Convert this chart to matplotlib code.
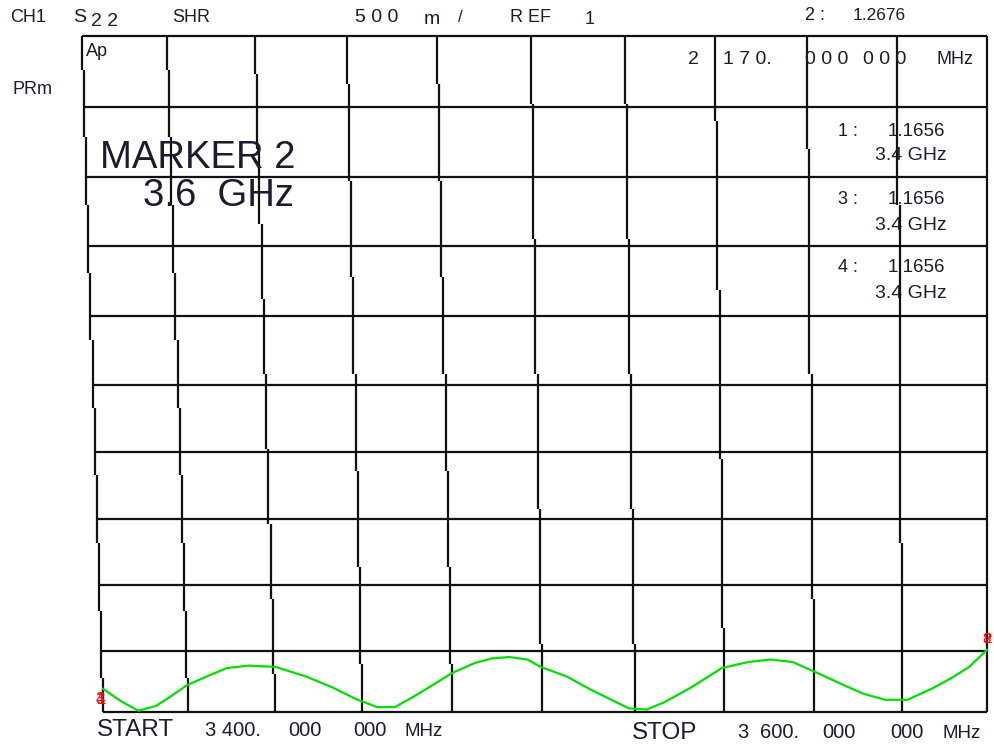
import matplotlib
matplotlib.use('Agg')
import matplotlib.pyplot as plt

# Sweep data (frequency in MHz, SWR)
freq = [3400, 3404, 3408, 3412, 3415, 3419, 3424, 3428, 3433, 3439,
        3446, 3452, 3457, 3462, 3466, 3470, 3475, 3479, 3484, 3488,
        3492, 3496, 3499, 3505, 3510, 3515, 3519, 3523, 3527, 3533,
        3540, 3546, 3551, 3556, 3561, 3567, 3572, 3577, 3582, 3588,
        3592, 3596, 3600]
swr = [1.19, 1.09, 1.01, 1.05, 1.12, 1.22, 1.30, 1.36, 1.38, 1.37,
       1.29, 1.20, 1.11, 1.04, 1.04, 1.12, 1.23, 1.32, 1.40, 1.44,
       1.45, 1.43, 1.37, 1.29, 1.19, 1.10, 1.03, 1.02, 1.08, 1.20,
       1.36, 1.41, 1.43, 1.41, 1.33, 1.23, 1.15, 1.10, 1.10, 1.20,
       1.28, 1.37, 1.51]

marker_labels = ['1 :', '3 :', '4 :']
marker_values = ['1.1656', '1.1656', '1.1656']
marker_freqs = ['3.4 GHz', '3.4 GHz', '3.4 GHz']

# Screen geometry (pixels)
W, H = 994, 747
rows_y = [36, 107, 177, 246, 316, 385, 452, 519, 585, 651, 712]
vx_top = [82, 167, 255, 347, 437, 531, 625, 715, 807, 897, 987]
vx_bot = [103, 188, 275, 362, 452, 542, 635, 724, 814, 902, 987]
y_top, y_bot = rows_y[0], rows_y[-1]
x_right = 987

plt.rcParams['font.family'] = ['Liberation Sans', 'DejaVu Sans']
ink = '#1c1c2c'

fig = plt.figure(figsize=(W / 100, H / 100), dpi=100)
ax = fig.add_axes([0, 0, 1, 1])
ax.set_xlim(0, W)
ax.set_ylim(H, 0)
ax.axis('off')


def line_x(i, y):
    # vertical line i drifts right in small steps going down
    d = vx_bot[i] - vx_top[i]
    n = max(int(round(d / 2.2)), 0)
    if n == 0:
        return vx_top[i]
    s = (y_bot - y_top) / n
    k = sum(1 for j in range(n) if y >= y_top + s * (j + 0.5))
    return vx_top[i] + d * k / n


# vertical grid lines, drawn as stepped segments
for i in range(len(vx_top)):
    d = vx_bot[i] - vx_top[i]
    n = max(int(round(d / 2.2)), 0)
    breaks = [y_top]
    if n > 0:
        s = (y_bot - y_top) / n
        breaks += [y_top + s * (j + 0.5) for j in range(n)]
    breaks.append(y_bot)
    for a, b in zip(breaks[:-1], breaks[1:]):
        xx = line_x(i, (a + b) / 2)
        ax.plot([xx, xx], [a, b], color='#111111', lw=1.6,
                solid_capstyle='butt')

# horizontal grid lines
for y in rows_y:
    ax.plot([line_x(0, y), x_right], [y, y], color='#111111', lw=1.6,
            solid_capstyle='butt')


def txt(x, y, s, size, **kw):
    ax.text(x, y, s, fontsize=size, color=ink, va='center', **kw)


# header texts
fs = 13
txt(10, 18, 'CH1', fs)
txt(73, 18, 'S', fs + 1)
txt(91, 21, '2 2', fs + 1)
txt(172, 17, 'SHR', fs)
txt(355, 17, '5 0 0', fs + 1)
txt(424, 19, 'm', fs + 1)
txt(458, 17, '/', fs - 1)
txt(510, 17, 'R EF', fs)
txt(585, 19, '1', fs)
txt(805, 16, '2 :', fs)
txt(853, 16, '1.2676', fs - 0.5)
txt(86, 52, 'Ap', fs)
txt(12, 90, 'PRm', fs)

txt(688, 59, '2', fs + 1)
txt(723, 59, '1 7 0.', fs + 1)
txt(805, 59, '0 0 0', fs + 1)
txt(863, 59, '0 0 0', fs + 1)
txt(937, 60, 'MHz', fs)

# big marker annotation
txt(100, 158, 'MARKER 2', 27.5)
txt(143, 196, '3.6  GHz', 27.5)

# marker readouts
marker_rows = [131, 200, 268]
for lab, val, fr, yy in zip(marker_labels, marker_values, marker_freqs,
                            marker_rows):
    txt(838, yy, lab, fs)
    txt(945, yy, val, fs + 0.5, ha='right')
    txt(947, yy + 25, fr, fs + 1, ha='right')

# footer
txt(97, 730, 'START', 17.5)
txt(205, 731, '3 400.', 14.5)
txt(288, 731, '000', 14.5)
txt(353, 731, '000', 14.5)
txt(405, 732, 'MHz', 13.5)
txt(632, 733, 'STOP', 17.5)
txt(737, 733, '3', 14.5)
txt(760, 733, '600.', 14.5)
txt(822, 733, '000', 14.5)
txt(890, 733, '000', 14.5)
txt(943, 734, 'MHz', 13.5)

# trace axes over the bottom grid row: REF 1, 500 m/div
left = line_x(0, y_bot - 5)
tax = fig.add_axes([left / W, (H - y_bot) / H, (x_right - left) / W,
                    (y_bot - rows_y[-2]) / H])
tax.set_xlim(freq[0], freq[-1])
tax.set_ylim(1.0, 1.5)
tax.axis('off')
tax.patch.set_alpha(0)
tax.plot(freq, swr, color='#00e000', lw=1.6, clip_on=False)

# marker flags
for t, dx in zip(['1', '3', '4'], [-1, -2, -2]):
    tax.annotate(t, (freq[0], swr[0]), xytext=(dx, -8),
                 textcoords='offset points', color='red', fontsize=12,
                 ha='center', va='center', annotation_clip=False)
for t in ['2', '8']:
    tax.annotate(t, (freq[-1], swr[-1]), xytext=(0, 8),
                 textcoords='offset points', color='red', fontsize=11,
                 ha='center', va='center', annotation_clip=False)

fig.savefig('out.png', dpi=100)
